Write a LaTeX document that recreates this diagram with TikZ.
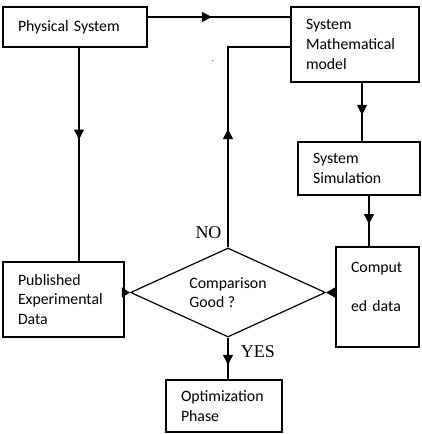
\documentclass[tikz,border=0pt]{standalone}
\usepackage{fontspec}
\setmainfont{Carlito}
\newfontfamily\labelfont{Liberation Serif}
\usetikzlibrary{arrows.meta,positioning,shapes.geometric,decorations.markings}

\tikzset{
  block/.style={draw, line width=1.2pt, inner xsep=15pt, inner ysep=0pt, align=left,
    font=\fontsize{15.8}{19.8}\selectfont},
  decide/.style={draw, diamond, aspect=2.2, line width=1.2pt, inner sep=0pt,
    minimum width=195pt, minimum height=89pt, align=left, font=\fontsize{15.8}{18.5}\selectfont},
  flow/.style={line width=1.2pt},
  midtip/.style={postaction={decorate}, decoration={markings,
    mark=at position #1 with {\arrow{Triangle[length=10pt,width=10pt]}}}},
  answer/.style={font=\labelfont\fontsize{18}{20}\selectfont, inner sep=0pt},
}

\begin{document}
\begin{tikzpicture}[x=1pt,y=-1pt]
  \useasboundingbox (0,0) rectangle (422,434);
  % boxes
  \node[block, text width=114pt, minimum height=40pt] (phys) at (75,27) {Physical System};
  \node[block, text width=98pt, minimum height=75pt] (model) at (355,44.5) {System\\Mathematical\\model};
  \node[block, text width=92pt, minimum height=53pt] (sim) at (359,168.5) {System\\Simulation};
  \node[block, text width=53pt, minimum height=100pt] (comp) at (377.5,297) {Comput\\[19pt]ed data\\[1pt]\mbox{}};
  \node[block, text width=91pt, minimum height=75pt] (pub) at (63.5,299.5) {Published\\Experimental\\Data};
  \node[block, text width=86pt, minimum height=52pt] (opt) at (224,406) {Optimization\\Phase};
  % decision
  \node[decide] (cmp) at (228,292.5) {Comparison\\Good ?};
  \node[answer] (no) at (208.5,233) {NO};
  \node[answer] (yes) at (258,352) {YES};
  \node[inner sep=0pt, font=\small] (dot) at (213,61) {.};
  % connectors
  \draw[flow, midtip=0.45] ([yshift=10pt]phys.east) -- ([yshift=10pt]phys.east -| model.west);
  \draw[flow, midtip=0.43] ([xshift=4pt]phys.south) -- ([xshift=4pt]phys.south |- pub.north);
  \draw[flow, midtip=0.45] (cmp.north) |- ([yshift=-2.5pt]model.west);
  \draw[flow, midtip=0.55] ([xshift=7pt]model.south) -- ([xshift=7pt]model.south |- sim.north);
  \draw[flow, midtip=0.56] ([xshift=10pt]sim.south) -- ([xshift=10pt]sim.south |- comp.north);
  \draw[flow, -{Triangle[length=8pt,width=10pt]}] (pub.east |- cmp.west) -- (cmp.west);
  \draw[flow, -{Triangle[length=9pt,width=10pt]}] (comp.west |- cmp.east) -- (cmp.east);
  \draw[flow, midtip=0.65] (cmp.south) -- (cmp.south |- opt.north);
\end{tikzpicture}
\end{document}
